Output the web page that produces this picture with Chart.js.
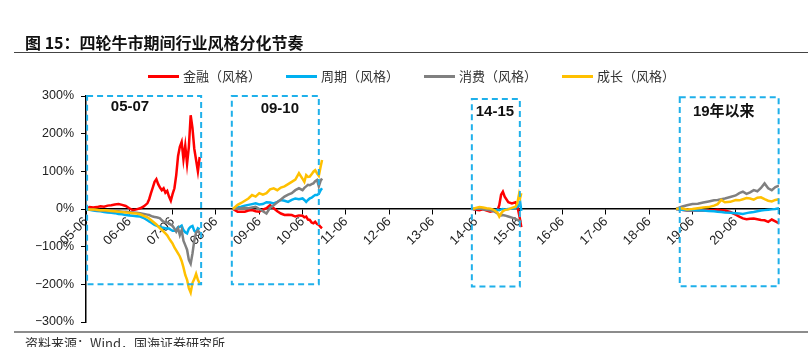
<!DOCTYPE html>
<html>
<head>
<meta charset="utf-8">
<script src="https://cdn.jsdelivr.net/npm/chart.js@4"></script>
<style>
  body { margin: 0; width: 808px; height: 347px; overflow: hidden; background: #fff; position: relative; font-family: "Noto Sans CJK SC", sans-serif; }
  canvas { position: absolute; left: 0; top: 0; }
  #title { position: absolute; left: 25px; top: 31px; font-size: 16px; font-weight: bold; color: #111; line-height: 22px; white-space: nowrap; }
  #titleRule { position: absolute; left: 14px; right: 0; top: 52px; border-top: 1.5px solid #444; }
  #legend { position: absolute; top: 67px; left: 148px; display: flex; font-size: 13px; color: #333; line-height: 18px; white-space: nowrap; }
  .item { display: flex; align-items: center; margin-right: 25px; }
  .swatch { width: 31px; height: 3px; margin-right: 4px; }
  #sourceRule { position: absolute; left: 14px; right: 0; top: 331px; border-top: 2px solid #8c8c8c; }
  #source { position: absolute; left: 25px; top: 334px; font-size: 13px; color: #333; line-height: 18px; white-space: nowrap; }
</style>
</head>
<body>
<canvas id="styleChart" width="808" height="347"></canvas>
<div id="title">图 15：四轮牛市期间行业风格分化节奏</div>
<div id="titleRule"></div>
<div id="legend"></div>
<div id="sourceRule"></div>
<div id="source">资料来源：Wind，国海证券研究所</div>
<script>
// x values are months counted from 2005-06
const yearTicks = ['05-06', '06-06', '07-06', '08-06', '09-06', '10-06', '11-06', '12-06',
                   '13-06', '14-06', '15-06', '16-06', '17-06', '18-06', '19-06', '20-06'];

const seriesNames = ['金融（风格）', '周期（风格）', '消费（风格）', '成长（风格）'];
const seriesColors = ['#ff0000', '#00b0f0', '#808080', '#ffc000'];

// 2005-2007
const p1Months = [0, 1, 2, 3, 4, 5, 6, 7, 8, 9, 10, 11, 12, 13, 14, 15, 16, 17,
  17.5, 18, 18.5, 19, 19.5, 20, 20.5, 21, 21.5, 22, 22.5, 23, 23.5, 24, 24.5, 25, 25.5,
  26, 26.5, 27, 27.5, 28, 28.5, 29, 29.5, 30, 30.5, 31, 31.5];
const p1Finance = [0, 5, 4, 5, 7, 6, 9, 10, 12, 13, 11, 8, 2, -3, -1, 2, 7, 15,
  26, 42, 57, 72, 79, 66, 57, 50, 55, 43, 48, 33, 22, 40, 55, 90, 140,
  165, 178, 132, 168, 120, 165, 249, 215, 160, 130, 100, 138];
const p1Cyclical = [0, -2, -4, -5, -6, -8, -9, -10, -11, -13, -14, -16, -17, -18, -19, -20, -24, -30,
  -33, -36, -39, -42, -44, -46, -47, -49, -50, -51, -52, -52, -55, -58, -58, -55, -48,
  -47, -44, -56, -62, -65, -52, -47, -45, -58, -62, -51, -54];
const p1Consumer = [0, -1, -2, -3, -3, -4, -5, -5, -6, -6, -7, -7, -8, -9, -10, -11, -13, -15,
  -16, -18, -20, -21, -22, -23, -25, -30, -34, -35, -36, -38, -41, -45, -52, -60, -51,
  -69, -56, -84, -96, -108, -135, -145, -118, -84, -62, -58, -64];
const p1Growth = [0, -1, -1, -2, -3, -3, -4, -5, -6, -7, -8, -9, -10, -11, -12, -14, -18, -22,
  -25, -29, -33, -37, -41, -46, -51, -55, -60, -65, -70, -78, -85, -92, -102, -110, -118,
  -126, -138, -155, -175, -188, -210, -222, -196, -186, -172, -188, -198];

// 2009-2010
const p2Months = [40.7, 42, 43, 44, 45, 46, 47, 48, 49, 50, 51, 52, 53, 54, 55, 56, 57, 58, 59, 60,
  60.5, 61, 61.5, 62, 62.5, 63, 63.5, 64, 64.5, 65, 65.4];
const p2Finance = [0, -7, -7, -7, -4, -3, -6, -7, -2, 2, 10, 2, -6, -12, -16, -15, -16, -20, -17, -18,
  -22, -20, -28, -29, -36, -38, -34, -40, -42, -48, -51];
const p2Cyclical = [0, 4, 6, 9, 11, 13, 15, 12, 13, 18, 17, 15, 19, 24, 22, 19, 24, 28, 26, 28,
  24, 19, 24, 28, 30, 34, 37, 37, 40, 50, 55];
const p2Consumer = [0, 1, 2, 3, 2, 4, 6, 0, -6, -12, 3, 10, 18, 25, 33, 38, 42, 50, 55, 50,
  56, 60, 64, 63, 66, 68, 74, 77, 60, 75, 81];
const p2Growth = [0, 11, 16, 22, 28, 37, 33, 42, 38, 42, 52, 55, 50, 57, 60, 66, 72, 78, 95, 80,
  72, 90, 85, 86, 92, 99, 103, 95, 88, 112, 130];

// 2014-2015
const p3Months = [107.2, 108, 109, 110, 111, 112, 113, 114, 114.5, 115, 115.5, 116, 117, 118, 119,
  119.5, 120, 120.3, 120.6];
const p3Finance = [0, -2, -3, -1, -4, -7, -5, -3, 10, 38, 46, 33, 18, 15, 18, 8, -15, -30, -48];
const p3Cyclical = [0, 0, 1, 0, -1, -2, -3, -2, -3, -1, 0, -1, 0, 1, 3, 6, 10, 18, -5];
const p3Consumer = [0, 1, 2, 0, -2, -4, -6, -12, -16, -17, -16, -17, -20, -23, -26, -29, -31, -33, -30];
const p3Growth = [0, 3, 5, 4, 2, 1, -2, -10, -20, -12, -6, -3, -1, 3, 6, 15, 40, 30, 42];

// 2019 onwards
const p4Months = [163.5, 165, 166.5, 168, 169.5, 171, 172.5, 174, 175, 176, 177, 178.5, 180, 181,
  182, 183, 184, 185, 186, 187, 188, 189, 190, 191, 192];
const p4Finance = [0, -2, -4, -3, -4, -4, -3, -3, -2, -3, -4, -8, -15, -20, -25, -27, -26, -25,
  -27, -29, -30, -34, -28, -33, -38];
const p4Cyclical = [0, -2, -3, -3, -4, -4, -5, -6, -7, -8, -9, -10, -11, -12, -13, -11, -9, -8,
  -6, -4, -3, -2, -1, 0, 2];
const p4Consumer = [0, 6, 10, 13, 14, 17, 20, 23, 24, 26, 28, 32, 36, 42, 46, 40, 44, 50,
  47, 56, 68, 55, 50, 58, 62];
const p4Growth = [0, 2, -1, 0, 2, 4, 5, 9, 13, 24, 18, 19, 24, 23, 26, 29, 28, 25,
  30, 31, 26, 22, 20, 24, 26];

// dashed frames around each bull market: [fromMonth, toMonth, top%, bottom%, label, labelMonth, label%]
const periodBoxes = [
  [0.3, 31.9, 300, -200, '05-07', 12.2, 270],
  [40.4, 64.5, 300, -200, '09-10', 53.7, 265],
  [106.9, 120.2, 292, -206, '14-15', 113.3, 257],
  [164.5, 191.9, 297, -205, '19年以来', 176.7, 257]
];

const periodMonths = [p1Months, p2Months, p3Months, p4Months];

function joinPeriods(parts) {
  const pts = [];
  parts.forEach((vals, k) => {
    if (k > 0) pts.push({ x: periodMonths[k][0] - 1, y: null });
    vals.forEach((v, i) => pts.push({ x: periodMonths[k][i], y: v }));
  });
  return pts;
}

const seriesData = [
  joinPeriods([p1Finance, p2Finance, p3Finance, p4Finance]),
  joinPeriods([p1Cyclical, p2Cyclical, p3Cyclical, p4Cyclical]),
  joinPeriods([p1Consumer, p2Consumer, p3Consumer, p4Consumer]),
  joinPeriods([p1Growth, p2Growth, p3Growth, p4Growth])
];

const legendEl = document.getElementById('legend');
seriesNames.forEach((name, i) => {
  const item = document.createElement('div');
  item.className = 'item';
  item.innerHTML = `<span class="swatch" style="background:${seriesColors[i]}"></span><span>${name}</span>`;
  legendEl.appendChild(item);
});

const boxPlugin = {
  id: 'periodBoxes',
  afterDatasetsDraw(chart) {
    const { ctx, scales: { x, y } } = chart;
    ctx.save();
    periodBoxes.forEach(b => {
      const left = x.getPixelForValue(b[0]);
      const right = x.getPixelForValue(b[1]);
      const top = y.getPixelForValue(b[2]);
      const bottom = y.getPixelForValue(b[3]);
      ctx.strokeStyle = '#1fb0ea';
      ctx.lineWidth = 2;
      ctx.setLineDash([6, 4]);
      ctx.strokeRect(left, top, right - left, bottom - top);
      ctx.setLineDash([]);
      ctx.fillStyle = '#111';
      ctx.font = 'bold 15px "Liberation Sans", "Noto Sans CJK SC", sans-serif';
      ctx.textAlign = 'center';
      ctx.textBaseline = 'middle';
      ctx.fillText(b[4], x.getPixelForValue(b[5]), y.getPixelForValue(b[6]));
    });
    ctx.restore();
  }
};

const ctx = document.getElementById('styleChart').getContext('2d');

new Chart(ctx, {
  type: 'line',
  data: {
    datasets: seriesNames.map((name, i) => ({
      label: name,
      data: seriesData[i],
      borderColor: seriesColors[i],
      backgroundColor: seriesColors[i],
      borderWidth: 2.5,
      pointRadius: 0,
      tension: 0,
      order: 3 - i
    }))
  },
  options: {
    responsive: false,
    animation: false,
    layout: { padding: { left: 36, right: 29, top: 96, bottom: 25 } },
    plugins: {
      legend: { display: false },
      tooltip: { enabled: false }
    },
    scales: {
      x: {
        type: 'linear',
        position: { y: 0 },
        min: 0,
        max: 192,
        grid: { drawOnChartArea: false, tickLength: 5, color: '#000', lineWidth: 1 },
        border: { color: '#000', width: 1.5 },
        ticks: {
          stepSize: 12,
          autoSkip: false,
          maxRotation: 45,
          minRotation: 45,
          padding: 0,
          color: '#222',
          font: { family: '"Liberation Sans", Arial, sans-serif', size: 13 },
          callback: (v, i) => yearTicks[i] ?? ''
        }
      },
      y: {
        min: -300,
        max: 300,
        afterFit: s => { s.width = 50; },
        grid: { drawOnChartArea: false, tickLength: 5, color: '#000', lineWidth: 1 },
        border: { color: '#000', width: 1.5 },
        ticks: {
          stepSize: 100,
          padding: 7,
          color: '#222',
          font: { family: '"Liberation Sans", Arial, sans-serif', size: 12.5 },
          callback: v => (v < 0 ? '−' + Math.abs(v) : v) + '%'
        }
      }
    }
  },
  plugins: [boxPlugin]
});
</script>
</body>
</html>
